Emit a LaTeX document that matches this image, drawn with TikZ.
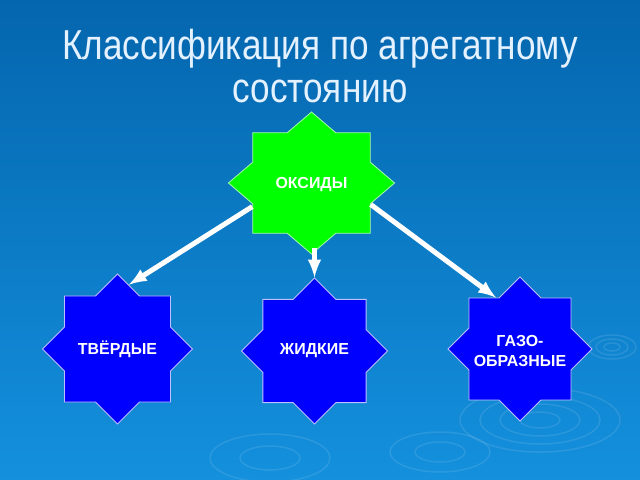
\documentclass[tikz,border=0pt]{standalone}
\usepackage{fontspec}
\setmainfont{Liberation Sans}
\newfontfamily\titlefont[FakeStretch=0.84]{Liberation Sans}
\usetikzlibrary{arrows,shapes}

\definecolor{bgtop}{HTML}{0466AE}
\definecolor{bgbot}{HTML}{1490DD}
\definecolor{titlecol}{HTML}{E4F1FF}

\tikzset{
  octa/.style={star, star points=8, star point ratio=1.3066, inner sep=0pt, draw=#1, line width=0.8bp},
  greenstar/.style={octa=green!35!white, fill=green},
  bluestar/.style={octa=blue!25!white, fill=blue},
  startext/.style={text=white, font=\bfseries\fontsize{16}{20}\selectfont, align=center},
  titletext/.style={anchor=base, text=titlecol, font=\titlefont\fontsize{42}{44}\selectfont},
  ripple/.style={draw=white, opacity=0.1, line width=1.5bp},
  flow/.style={-latex, line width=5bp, white},
}

\begin{document}
\begin{tikzpicture}

\useasboundingbox (0bp,0bp) rectangle (640bp,-480bp);
\shade [top color=bgtop, bottom color=bgbot] (0bp,0bp) rectangle (640bp,-480bp);

% ripples on the water
\draw [ripple] (612bp,-347bp) ellipse (8bp and 4bp);
\draw [ripple] (612bp,-347bp) ellipse (16bp and 8bp);
\draw [ripple] (612bp,-347bp) ellipse (24bp and 12bp);
\draw [ripple] (540bp,-420bp) ellipse (20bp and 8bp);
\draw [ripple] (540bp,-420bp) ellipse (40bp and 16bp);
\draw [ripple] (540bp,-420bp) ellipse (60bp and 24bp);
\draw [ripple] (540bp,-420bp) ellipse (80bp and 32bp);
\draw [ripple] (440bp,-452bp) ellipse (25bp and 10bp);
\draw [ripple] (440bp,-452bp) ellipse (50bp and 20bp);
\draw [ripple] (270bp,-458bp) ellipse (30bp and 12bp);
\draw [ripple] (270bp,-458bp) ellipse (60bp and 24bp);

% title
\node (t1) at (320bp,-59bp)[titletext] {Классификация по агрегатному};
\node (t2) at (320bp,-102bp)[titletext] {состоянию};

% stars
\node (ox) at (311.5bp,-183bp)[greenstar, xscale=1.17, minimum size=142bp] {};
\node (tv) at (117.5bp,-349bp)[bluestar, minimum size=150bp] {};
\node (lq) at (314.5bp,-351bp)[bluestar, minimum size=146bp] {};
\node (gs) at (520bp,-349bp)[bluestar, minimum size=144bp] {};

\node (oxt) at ([yshift=-2bp]ox)[startext] {ОКСИДЫ};
\node (tvt) at (tv)[startext] {ТВЁРДЫЕ};
\node (lqt) at (lq)[startext] {ЖИДКИЕ};
\node (gst) at ([yshift=-2bp]gs)[startext] {ГАЗО-\\ОБРАЗНЫЕ};

% arrows
\draw [flow] (ox.205) -- (tv.80);
\draw [flow] (ox.337) -- (gs.115);
\draw [flow, shorten <=-7bp] (lq.90 |- ox.270) -- (lq.90);
\end{tikzpicture}
\end{document}
